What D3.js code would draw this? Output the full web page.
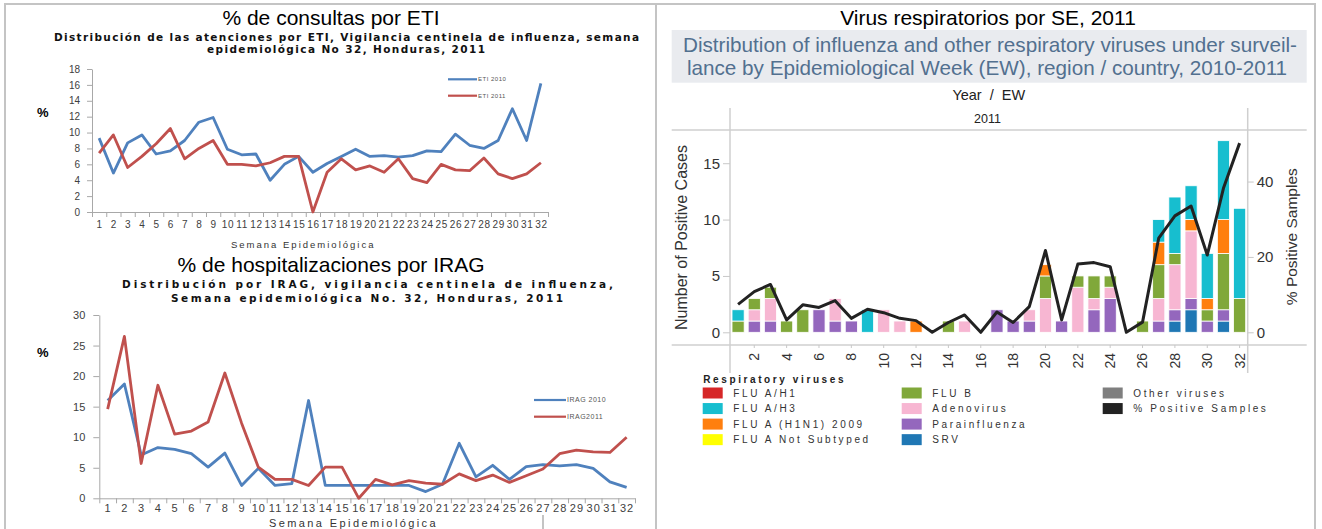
<!DOCTYPE html>
<html>
<head>
<meta charset="utf-8">
<script src="https://cdn.jsdelivr.net/npm/d3@7"></script>
<style>
  body { margin: 0; background: #fff; }
  svg { font-family: "Liberation Sans", Arial, sans-serif; }
</style>
</head>
<body>
<svg width="1322" height="529"></svg>
<script>
var weeks = d3.range(1, 33);

// % de consultas por ETI
var eti2010 = [9.3,4.9,8.7,9.7,7.3,7.7,9.0,11.3,11.9,7.9,7.2,7.3,4.0,6.0,7.0,5.0,6.1,7.0,7.9,7.0,7.1,6.9,7.1,7.7,7.6,9.8,8.4,8.0,9.0,13.0,9.0,16.2];
var eti2011 = [7.4,9.7,5.6,7.0,8.6,10.5,6.7,8.0,9.0,6.0,6.0,5.8,6.2,7.0,7.0,0,5.0,6.7,5.3,5.8,5.0,6.7,4.2,3.7,6.0,5.3,5.2,6.8,4.8,4.2,4.8,6.2];
var etiTicks = [0,2,4,6,8,10,12,14,16,18];

// % de hospitalizaciones por IRAG
var irag2010 = [16.0,18.7,7.1,8.3,8.0,7.3,5.1,7.4,2.1,4.9,2.1,2.4,16.0,2.1,2.1,2.1,2.1,2.1,2.1,1.1,2.3,9.0,3.5,5.4,3.1,5.2,5.5,5.3,5.5,4.9,2.7,1.8];
var irag2011 = [14.6,26.5,5.7,18.5,10.5,11.0,12.5,20.5,12.3,5.1,3.1,3.1,2.1,5.1,5.1,0,3.1,2.2,2.9,2.5,2.3,4.0,2.9,3.8,2.6,3.7,4.8,7.3,7.9,7.6,7.5,10.0];
var iragTicks = [0,5,10,15,20,25,30];

// virus respiratorios, cases per week
var fluAH1   = [0,0,0,0,0,0,0,0,0,0,0,0,0,0,0,0,0,0,0,0,0,0,0,0,0,0,0,0,0,0,0,0];
var fluAH3   = [1,0,0,0,0,0,0,0,2,0,0,0,0,0,0,0,0,0,0,0,0,0,0,0,0,0,2,5,3,4,7,8];
var fluH1N1  = [0,0,0,0,0,0,0,0,0,0,0,1,0,0,0,0,0,0,0,1,0,0,0,0,0,0,2,0,1,1,3,0];
var fluNotSub= [0,0,0,0,0,0,0,0,0,0,0,0,0,0,0,0,0,0,0,0,0,0,0,0,0,0,0,0,0,0,0,0];
var fluB     = [1,1,1,1,2,0,0,0,0,0,0,0,0,1,0,0,0,0,0,2,0,1,2,1,0,1,3,1,0,1,5,3];
var adeno    = [0,1,2,0,0,0,2,0,0,2,1,0,0,0,1,0,0,0,1,3,0,4,1,1,0,0,2,4,6,0,0,0];
var parainf  = [0,1,1,0,0,2,1,1,0,0,0,0,0,0,0,0,2,1,1,0,1,0,2,3,0,0,1,1,1,1,1,0];
var srv      = [0,0,0,0,0,0,0,0,0,0,0,0,0,0,0,0,0,0,0,0,0,0,0,0,0,0,0,1,2,0,1,0];
var otherVir = [0,0,0,0,0,0,0,0,0,0,0,0,0,0,0,0,0,0,0,0,0,0,0,0,0,0,0,0,0,0,0,0];
var pctPositive = [7.4,10.8,12.7,3.3,7.3,6.6,8.4,3.7,6.1,5.2,3.7,3.1,0,2.6,4.6,0,5.4,2.6,6.8,21.7,3.3,18.1,18.5,17.4,0,2.7,25.0,30.9,33.5,20.5,38.2,50.2];
var casesTicks = [0,5,10,15];
var pctTicks = [0,20,40];

var virusNames  = ['FLU A/H1','FLU A/H3','FLU A (H1N1) 2009','FLU A Not Subtyped','FLU B','Adenovirus','Parainfluenza','SRV','Other viruses'];
var virusColors = ['#d62728','#17becf','#ff7f0e','#ffff00','#80a83a','#f7b6d2','#9467bd','#1f77b4','#7f7f7f'];
var virusValues = [fluAH1, fluAH3, fluH1N1, fluNotSub, fluB, adeno, parainf, srv, otherVir];
// bottom -> top in the bars
var stackOrder = ['SRV','Parainfluenza','Adenovirus','FLU B','FLU A Not Subtyped','FLU A (H1N1) 2009','FLU A/H3','FLU A/H1','Other viruses'];

var svg = d3.select('svg');
var frame = '#c4c4c4';

// panel borders
var borders = [[4,4,1316,4],[5,4,5,529],[656,4,656,529],[1315,4,1315,529],[543,515,543,529]];
svg.append('g').selectAll('line').data(borders).enter().append('line')
  .attr('x1', function(d){ return d[0]; }).attr('y1', function(d){ return d[1]; })
  .attr('x2', function(d){ return d[2]; }).attr('y2', function(d){ return d[3]; })
  .attr('stroke', frame).attr('stroke-width', 2);

function linePanel(o) {
  var x = d3.scaleLinear().domain([0.5, 32.5]).range(o.xRange);
  var y = d3.scaleLinear().domain(o.yDomain).range(o.yRange);
  var g = svg.append('g');
  var axisCol = '#a8a8a8';

  g.append('text').attr('x', 331).attr('y', o.titleY).attr('text-anchor','middle')
    .style('font-size','21px').attr('fill','#000').text(o.title);
  o.sub.forEach(function(s){
    g.append('text').attr('x', s[1]).attr('y', s[2]).attr('textLength', s[3]).attr('lengthAdjust','spacing')
      .style('font-family','"DejaVu Sans", Verdana, sans-serif')
      .style('font-size', o.subSize).style('font-weight','bold').attr('fill','#111').text(s[0]);
  });

  var ya = g.append('g').attr('transform','translate(' + o.xRange[0] + ',0)')
    .call(d3.axisLeft(y).tickValues(o.yTicks).tickSize(o.yTick).tickSizeOuter(0).tickPadding(o.yPad));
  ya.selectAll('text').style('font-size', o.yFont).attr('fill','#404040');

  var xa = g.append('g').attr('transform','translate(0,' + o.yRange[0] + ')')
    .call(d3.axisBottom(x).tickValues(d3.range(0.5, 33, 1)).tickFormat('').tickSize(5).tickSizeOuter(0));
  var xl = g.append('g').attr('transform','translate(0,' + o.yRange[0] + ')')
    .call(d3.axisBottom(x).tickValues(weeks).tickSize(0).tickPadding(o.xPad));
  xl.select('.domain').remove();
  xl.selectAll('text').style('font-size', o.xFont).style('letter-spacing', o.xSpace).attr('fill','#404040');
  [ya, xa].forEach(function(a){
    a.select('.domain').attr('stroke', axisCol);
    a.selectAll('line').attr('stroke', axisCol);
  });

  g.append('text').attr('x', 37).attr('y', o.pctY).style('font-size','13px').style('font-weight','bold').text('%');
  g.append('text').attr('x', o.semX).attr('y', o.semY).style('font-size', o.semSize)
    .style('letter-spacing', o.semSpace).attr('fill','#333').text('Semana Epidemiológica');

  var line = d3.line().x(function(d, i){ return x(i + 1); }).y(function(d){ return y(d); });
  o.series.forEach(function(s){
    g.append('path').datum(s.values).attr('d', line).attr('fill','none')
      .attr('stroke', s.color).attr('stroke-width', 2.8).attr('stroke-linejoin','round');
    g.append('line').attr('x1', o.legX).attr('x2', o.legX + o.legW).attr('y1', s.legY).attr('y2', s.legY)
      .attr('stroke', s.color).attr('stroke-width', 2.2);
    g.append('text').attr('x', o.legX + o.legW + 1).attr('y', s.legY).attr('dy','0.35em')
      .style('font-size', o.legFont).style('letter-spacing','0.5px').attr('fill','#555').text(s.name);
  });
}

linePanel({
  title: '% de consultas por ETI', titleY: 25, subSize: '10.5px',
  sub: [['Distribución de las atenciones por ETI, Vigilancia centinela de influenza, semana', 54, 40.7, 585],
        ['epidemiológica No 32, Honduras, 2011', 207, 53.3, 278]],
  xRange: [92, 548], yDomain: [0, 18], yRange: [212, 69], yTicks: etiTicks,
  yTick: 5, yPad: 7, yFont: '10px', xPad: 9, xFont: '10px', xSpace: '0.6px',
  pctY: 117, semX: 231, semY: 248, semSize: '9.5px', semSpace: '2px',
  legX: 448, legW: 29, legFont: '6px',
  series: [{name: 'ETI 2010', values: eti2010, color: '#4f81bd', legY: 79.3},
           {name: 'ETI 2011', values: eti2011, color: '#c0504d', legY: 95.7}]
});

linePanel({
  title: '% de hospitalizaciones por IRAG', titleY: 272, subSize: '10.5px',
  sub: [['Distribución  por IRAG, vigilancia centinela de influenza,', 122, 288, 491],
        ['Semana epidemiológica No. 32, Honduras, 2011', 171, 302, 392]],
  xRange: [99.3, 635], yDomain: [0, 30], yRange: [498.3, 315], yTicks: iragTicks,
  yTick: 6, yPad: 8, yFont: '11px', xPad: 6, xFont: '11px', xSpace: '1px',
  pctY: 357, semX: 269, semY: 527, semSize: '11px', semSpace: '2.4px',
  legX: 534, legW: 32, legFont: '7px',
  series: [{name: 'IRAG 2010', values: irag2010, color: '#4f81bd', legY: 400},
           {name: 'IRAG2011', values: irag2011, color: '#c0504d', legY: 416.7}]
});

// ---- right panel: respiratory viruses ----
var r = svg.append('g');
r.append('text').attr('x', 988).attr('y', 25).attr('text-anchor','middle')
  .style('font-size','21px').text('Virus respiratorios por SE, 2011');
r.append('rect').attr('x', 671.7).attr('y', 30).attr('width', 635).attr('height', 52.7).attr('fill','#e9ebef');
r.append('text').attr('x', 990).attr('y', 52.3).attr('text-anchor','middle').style('font-size','20.7px').attr('fill','#52708f')
  .text('Distribution of influenza and other respiratory viruses under surveil-');
r.append('text').attr('x', 987).attr('y', 75).attr('text-anchor','middle').style('font-size','20.7px').attr('fill','#52708f')
  .text('lance by Epidemiological Week (EW), region / country, 2010-2011');
r.append('text').attr('x', 988.8).attr('y', 100).attr('text-anchor','middle').style('font-size','14.5px').attr('fill','#222')
  .style('white-space','pre').text('Year  /  EW');
r.append('text').attr('x', 987.5).attr('y', 122.7).attr('text-anchor','middle').style('font-size','12.5px').attr('fill','#222').text('2011');

var gridLines = [[671.7,130,1306.7,130],[671.7,345,1306.7,345],[730,108,730,373],[1247.7,108,1247.7,373]];
r.append('g').selectAll('line').data(gridLines).enter().append('line')
  .attr('x1', function(d){ return d[0]; }).attr('y1', function(d){ return d[1]; })
  .attr('x2', function(d){ return d[2]; }).attr('y2', function(d){ return d[3]; })
  .attr('stroke', '#cfcfcf').attr('stroke-width', 1.5);

var xb = d3.scaleBand().domain(weeks).range([730, 1247.7]).paddingInner(0.25).paddingOuter(0.125);
var yc = d3.scaleLinear().domain([0, 18]).range([332.3, 129.4]);
var yp = d3.scaleLinear().domain([0, 54]).range([332.3, 128.8]);

var table = weeks.map(function(w, i){
  var row = {week: w};
  virusNames.forEach(function(n, k){ row[n] = virusValues[k][i]; });
  return row;
});
var colorOf = d3.scaleOrdinal().domain(virusNames).range(virusColors);
var stacked = d3.stack().keys(stackOrder)(table);

r.append('g').selectAll('g').data(stacked).enter().append('g')
  .attr('fill', function(d){ return colorOf(d.key); })
  .selectAll('rect').data(function(d){ return d.filter(function(p){ return p[1] > p[0]; }); })
  .enter().append('rect')
  .attr('x', function(d){ return xb(d.data.week); })
  .attr('width', xb.bandwidth())
  .attr('y', function(d){ return yc(d[1]); })
  .attr('height', function(d){ return yc(d[0]) - yc(d[1]); })
  .attr('stroke', '#fff').attr('stroke-width', 0.8);

var pctLine = d3.line()
  .x(function(d, i){ return xb(weeks[i]) + xb.bandwidth() / 2; })
  .y(function(d){ return yp(d); });
r.append('path').datum(pctPositive).attr('d', pctLine).attr('fill','none')
  .attr('stroke','#222').attr('stroke-width', 3).attr('stroke-linejoin','round');

var axL = r.append('g').attr('transform','translate(730,0)')
  .call(d3.axisLeft(yc).tickValues(casesTicks).tickSize(7).tickSizeOuter(0).tickPadding(3));
var axR = r.append('g').attr('transform','translate(1247.7,0)')
  .call(d3.axisRight(yp).tickValues(pctTicks).tickSize(6).tickSizeOuter(0).tickPadding(3));
var axB = r.append('g').attr('transform','translate(0,345)')
  .call(d3.axisBottom(xb).tickValues(weeks.filter(function(w){ return w % 2 === 0; })).tickSize(3).tickSizeOuter(0));
axB.selectAll('text').attr('transform','rotate(-90)').attr('x', -8).attr('y', 0).attr('dy','0.35em')
  .attr('text-anchor','end');
[axL, axR, axB].forEach(function(a){
  a.select('.domain').remove();
  a.selectAll('line').attr('stroke','#c8c8c8');
  a.selectAll('text').style('font-size','15px').attr('fill','#333');
});
axB.selectAll('text').style('font-size','14px');

r.append('text').attr('transform','translate(687.3,237.5)rotate(-90)').attr('text-anchor','middle')
  .style('font-size','16px').attr('fill','#333').text('Number of Positive Cases');
r.append('text').attr('transform','translate(1297,236.7)rotate(-90)').attr('text-anchor','middle')
  .style('font-size','15.5px').attr('fill','#333').text('% Positive Samples');

// legend
var legItems = virusNames.map(function(n, k){ return {name: n, color: virusColors[k]}; });
legItems.push({name: '% Positive Samples', color: '#222'});
var colX = [702.7, 901.7, 1102.7];
var lg = r.append('g');
lg.append('text').attr('x', 703.3).attr('y', 383.3).style('font-size','10px').style('font-weight','bold')
  .style('letter-spacing','2.6px').attr('fill','#222').text('Respiratory viruses');
var li = lg.selectAll('g.item').data(legItems).enter().append('g').attr('class','item')
  .attr('transform', function(d, i){
    return 'translate(' + colX[Math.floor(i / 4)] + ',' + (393 + (i % 4) * 15.55) + ')';
  });
li.append('rect').attr('x', 0).attr('y', -5.5).attr('width', 20).attr('height', 11)
  .attr('fill', function(d){ return d.color; });
li.append('text').attr('x', 30.6).attr('y', 0).attr('dy','0.35em').style('font-size','10px')
  .style('letter-spacing','2.6px').attr('fill','#333').text(function(d){ return d.name; });
</script>
</body>
</html>
